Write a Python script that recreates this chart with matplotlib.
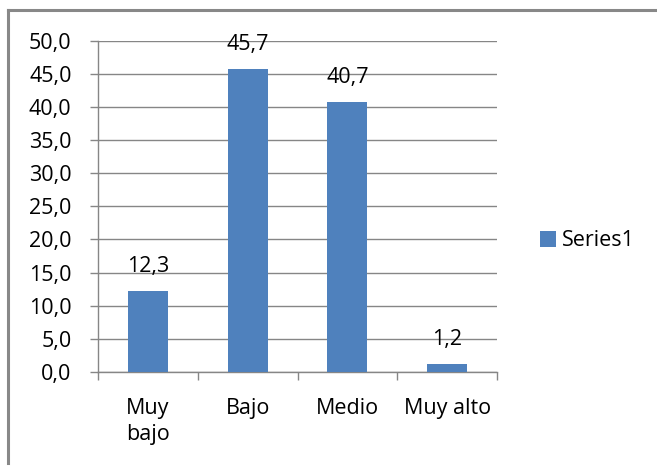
import matplotlib.pyplot as plt
import numpy as np
from matplotlib.lines import Line2D

categories = ["Muy\nbajo", "Bajo", "Medio", "Muy alto"]
values = [12.3, 45.7, 40.7, 1.2]
series_name = "Series1"

bar_color = "#4F81BD"
grid_color = "#868686"
fs = 15.5

plt.rcParams['font.family'] = ['Open Sans', 'DejaVu Sans']

fig = plt.figure(figsize=(6.57, 4.66), dpi=100)
ax = fig.add_axes([98/657, 1-372/466, (497-98)/657, (372-40.7)/466])

x = np.arange(len(values))
bars = ax.bar(x, values, width=0.4, color=bar_color, label=series_name, zorder=3)

ax.set_xlim(-0.5, len(values) - 0.5)
ax.set_ylim(0, 50)
ax.set_yticks(np.arange(0, 50.1, 5))
ax.set_yticklabels([f"{v:.1f}".replace(".", ",") for v in np.arange(0, 50.1, 5)])
ax.yaxis.grid(True, color=grid_color, linewidth=1)
ax.set_axisbelow(True)

ax.set_xticks(x)
ax.set_xticklabels(categories, linespacing=1.3)
ax.set_xticks(np.arange(-0.5, len(values)), minor=True)
ax.tick_params(axis='x', which='major', length=0, pad=19, labelsize=fs)
ax.tick_params(axis='x', which='minor', length=6, color=grid_color, width=1)
ax.tick_params(axis='y', length=6, color=grid_color, width=1, pad=13, labelsize=fs)

for s in ["top", "right"]:
    ax.spines[s].set_visible(False)
for s in ["left", "bottom"]:
    ax.spines[s].set_color(grid_color)
    ax.spines[s].set_linewidth(1)

for xi, v in zip(x, values):
    ax.annotate(f"{v:.1f}".replace(".", ","), (xi, v), xytext=(0, 10),
                textcoords="offset points", ha="center", va="bottom", fontsize=fs)

ax.legend(loc="center left", bbox_to_anchor=(1.06, 0.396), frameon=False,
          fontsize=fs, handlelength=0.75, handleheight=0.75, handletextpad=0.25)

# outer chart border (left and top visible)
fig.add_artist(Line2D([8/657, 8/657], [1-463/466, 1-10/466], transform=fig.transFigure,
                      color="#888888", linewidth=2.2))
fig.add_artist(Line2D([8/657, 1], [1-10/466, 1-10/466], transform=fig.transFigure,
                      color="#888888", linewidth=2.2))

fig.savefig("out.png", dpi=100)
